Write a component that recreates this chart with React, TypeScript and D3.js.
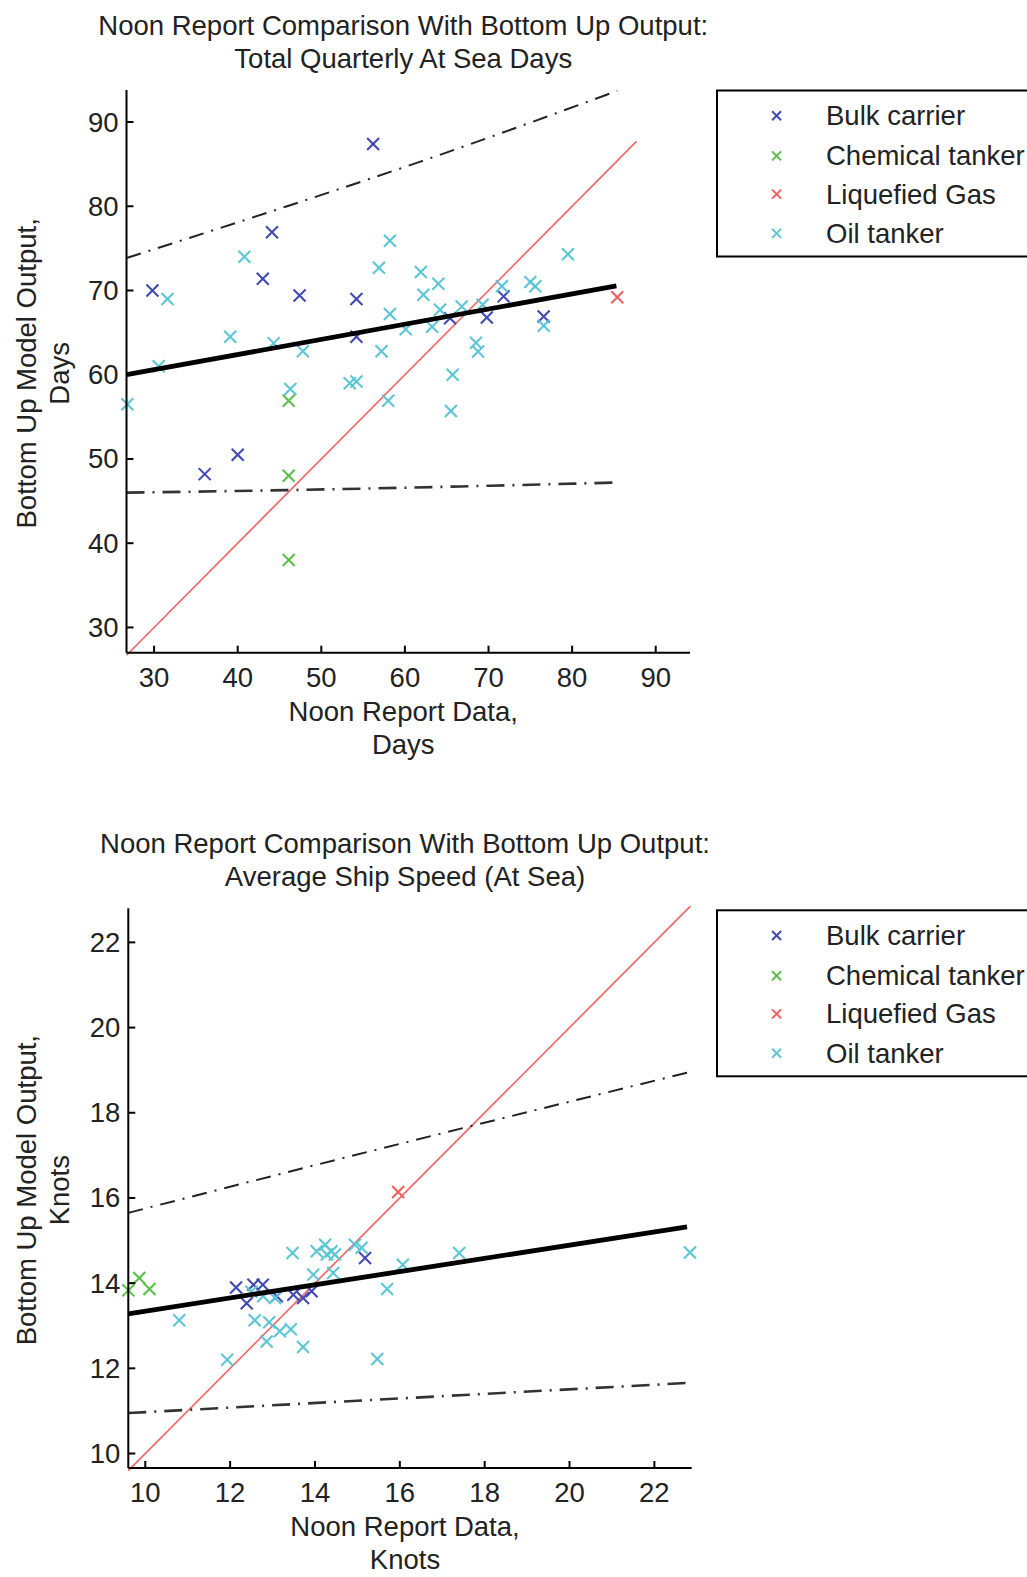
import React from "react";
import * as d3 from "d3";

// ---------- Data: Total Quarterly At Sea Days ----------
const daysBulk: [number, number][] = [
  [29.8, 70.0], [36.05, 48.2], [40.0, 50.5], [43.0, 71.4], [44.1, 76.9], [47.4, 69.4],
  [54.2, 69.0], [54.2, 64.5], [56.2, 87.4], [65.4, 66.7], [69.8, 66.8], [71.8, 69.3], [76.6, 66.9],
];
const daysChem: [number, number][] = [[46.1, 56.9], [46.1, 48.0], [46.1, 38.0]];
const daysLng: [number, number][] = [[85.4, 69.2]];
const daysOil: [number, number][] = [
  [26.8, 56.5], [30.55, 61.0], [31.6, 69.0], [39.1, 64.5], [40.8, 74.0], [44.3, 63.75],
  [46.3, 58.3], [47.8, 62.8], [53.4, 59.0], [54.2, 59.2], [56.9, 72.7], [57.2, 62.8],
  [58.0, 56.9], [58.2, 75.9], [58.2, 67.2], [60.1, 65.4], [61.9, 72.2], [62.2, 69.5],
  [64.0, 70.8], [64.2, 67.7], [63.25, 65.7], [65.5, 55.7], [65.7, 60.0], [66.8, 68.1],
  [68.5, 63.8], [68.75, 62.75], [69.3, 68.3], [71.6, 70.5], [75.0, 71.0], [75.6, 70.5],
  [76.6, 65.8], [79.5, 74.3],
];
const daysFit: [number, number][] = [[26.7, 60.0], [85.3, 70.56]];
const daysUpper: [number, number][] = [[26.7, 73.85], [45.9, 80.0], [61.85, 85.3], [85.4, 93.7]];
const daysLower: [number, number][] = [[26.7, 46.0], [45.9, 46.3], [85.4, 47.2]];
const daysIdentity: [number, number][] = [[26.7, 26.7], [87.7, 87.7]];
const daysTicks = [30, 40, 50, 60, 70, 80, 90];

// ---------- Data: Average Ship Speed (At Sea) ----------
const speedBulk: [number, number][] = [
  [12.14, 13.9], [12.39, 13.53], [12.55, 13.96], [12.77, 13.96], [13.1, 13.69], [13.49, 13.73],
  [13.72, 13.65], [13.92, 13.81], [15.18, 14.59],
];
const speedChem: [number, number][] = [[9.6, 13.83], [9.86, 14.12], [10.1, 13.86]];
const speedLng: [number, number][] = [[15.96, 16.14]];
const speedOil: [number, number][] = [
  [10.8, 13.13], [11.93, 12.2], [12.5, 13.8], [12.58, 13.13], [12.78, 13.69], [12.86, 12.63],
  [12.92, 13.08], [13.06, 13.65], [13.17, 12.87], [13.43, 12.92], [13.47, 14.71], [13.72, 12.5],
  [13.96, 14.2], [14.04, 14.75], [14.24, 14.9], [14.28, 14.67], [14.39, 14.75], [14.43, 14.24],
  [14.47, 14.67], [14.94, 14.9], [15.1, 14.83], [15.47, 12.22], [15.7, 13.86], [16.07, 14.43],
  [17.4, 14.71], [22.84, 14.72],
];
const speedFit: [number, number][] = [[9.6, 13.28], [22.77, 15.32]];
const speedUpper: [number, number][] = [[9.6, 15.65], [13.33, 16.6], [22.85, 18.96]];
const speedLower: [number, number][] = [[9.6, 10.95], [22.85, 11.66]];
const speedIdentity: [number, number][] = [[9.6, 9.6], [22.85, 22.85]];
const speedTicks = [10, 12, 14, 16, 18, 20, 22];

const seriesNames = ["Bulk carrier", "Chemical tanker", "Liquefied Gas", "Oil tanker"];
const seriesColors = ["#4349b3", "#5cbf4c", "#f0605f", "#5cc6d6"];

const FONT = "'Liberation Sans', Arial, sans-serif";
const FS = 27.5;

type Pt = [number, number];

interface PanelProps {
  left: number; right: number; top: number; bottom: number;
  xDomain: [number, number]; yDomain: [number, number];
  ticks: number[];
  series: Pt[][];
  fit: Pt[]; upper: Pt[]; lower: Pt[]; identity: Pt[];
  title: string[]; xLabel: string[]; yLabel: string[];
  legendTop: number;
}

function Marker({ x, y, color, s = 6, w = 2.1 }: { x: number; y: number; color: string; s?: number; w?: number }) {
  return (
    <g stroke={color} strokeWidth={w}>
      <line x1={x - s} y1={y - s} x2={x + s} y2={y + s} />
      <line x1={x - s} y1={y + s} x2={x + s} y2={y - s} />
    </g>
  );
}

function Panel(p: PanelProps) {
  const x = d3.scaleLinear().domain(p.xDomain).range([p.left, p.right]);
  const y = d3.scaleLinear().domain(p.yDomain).range([p.bottom, p.top]);
  const line = d3.line<Pt>().x((d) => x(d[0])).y((d) => y(d[1]));
  const curve = d3.line<Pt>().x((d) => x(d[0])).y((d) => y(d[1])).curve(d3.curveMonotoneX);
  const cx = (p.left + p.right) / 2 - 5;
  const cy = (p.top + p.bottom) / 2;
  const legRows = [25.2, 65.4, 103.6, 142.9];
  return (
    <g>
      <path d={line(p.identity) || ""} stroke="#f06868" strokeWidth={1.7} fill="none" />
      <path d={curve(p.upper) || ""} stroke="#222" strokeWidth={2} fill="none" strokeDasharray="15,8,2,8" />
      <path d={curve(p.lower) || ""} stroke="#333" strokeWidth={2.6} fill="none" strokeDasharray="18,8,2,8" />
      {p.series.map((s, i) =>
        s.map((d, j) => <Marker key={`${i}-${j}`} x={x(d[0])} y={y(d[1])} color={seriesColors[i]} />)
      )}
      <path d={line(p.fit) || ""} stroke="#000" strokeWidth={4.8} fill="none" />
      <line x1={p.left} y1={p.top} x2={p.left} y2={p.bottom} stroke="#000" strokeWidth={2} />
      <line x1={p.left} y1={p.bottom} x2={p.right} y2={p.bottom} stroke="#000" strokeWidth={2} />
      {p.ticks.map((t) => (
        <g key={`xt${t}`}>
          <line x1={x(t)} x2={x(t)} y1={p.bottom} y2={p.bottom - 7} stroke="#000" strokeWidth={2} />
          <text x={x(t)} y={p.bottom + 34} textAnchor="middle" fontFamily={FONT} fontSize={FS} fill="#222">{t}</text>
        </g>
      ))}
      {p.ticks.filter((t) => t >= p.yDomain[0] && t <= p.yDomain[1]).map((t) => (
        <g key={`yt${t}`}>
          <line x1={p.left} x2={p.left + 7} y1={y(t)} y2={y(t)} stroke="#000" strokeWidth={2} />
          <text x={p.left - 8} y={y(t) + 9.5} textAnchor="end" fontFamily={FONT} fontSize={FS} fill="#222">{t}</text>
        </g>
      ))}
      {p.title.map((t, i) => (
        <text key={`ti${i}`} x={cx} y={p.top - 55 + i * 33} textAnchor="middle" fontFamily={FONT} fontSize={FS} fill="#222">{t}</text>
      ))}
      {p.xLabel.map((t, i) => (
        <text key={`xl${i}`} x={cx} y={p.bottom + 68 + i * 33} textAnchor="middle" fontFamily={FONT} fontSize={FS} fill="#222">{t}</text>
      ))}
      {p.yLabel.map((t, i) => (
        <text key={`yl${i}`} transform={`translate(${36 + i * 33},${cy + 2}) rotate(-90)`} textAnchor="middle" fontFamily={FONT} fontSize={FS} fill="#222">{t}</text>
      ))}
      <rect x={717} y={p.legendTop} width={340} height={166} fill="#fff" stroke="#000" strokeWidth={2} />
      {seriesNames.map((n, i) => (
        <g key={`lg${i}`}>
          <Marker x={776.6} y={p.legendTop + legRows[i]} color={seriesColors[i]} s={4.5} w={2} />
          <text x={826} y={p.legendTop + legRows[i] + 9.5} fontFamily={FONT} fontSize={FS} fill="#222">{n}</text>
        </g>
      ))}
    </g>
  );
}

export default function App() {
  return (
    <svg width={1027} height={1577} style={{ position: "absolute", left: 0, top: 0, background: "#fff" }}>
      <rect width={1027} height={1577} fill="#fff" />
      <Panel
        left={126.5} right={690} top={90} bottom={652.7}
        xDomain={[26.7, 94.1]} yDomain={[27, 93.8]}
        ticks={daysTicks}
        series={[daysBulk, daysChem, daysLng, daysOil]}
        fit={daysFit} upper={daysUpper} lower={daysLower} identity={daysIdentity}
        title={["Noon Report Comparison With Bottom Up Output:", "Total Quarterly At Sea Days"]}
        xLabel={["Noon Report Data,", "Days"]}
        yLabel={["Bottom Up Model Output,", "Days"]}
        legendTop={90.5}
      />
      <Panel
        left={128.3} right={691.7} top={908.3} bottom={1468}
        xDomain={[9.6, 22.88]} yDomain={[9.66, 22.8]}
        ticks={speedTicks}
        series={[speedBulk, speedChem, speedLng, speedOil]}
        fit={speedFit} upper={speedUpper} lower={speedLower} identity={speedIdentity}
        title={["Noon Report Comparison With Bottom Up Output:", "Average Ship Speed (At Sea)"]}
        xLabel={["Noon Report Data,", "Knots"]}
        yLabel={["Bottom Up Model Output,", "Knots"]}
        legendTop={910.3}
      />
    </svg>
  );
}
